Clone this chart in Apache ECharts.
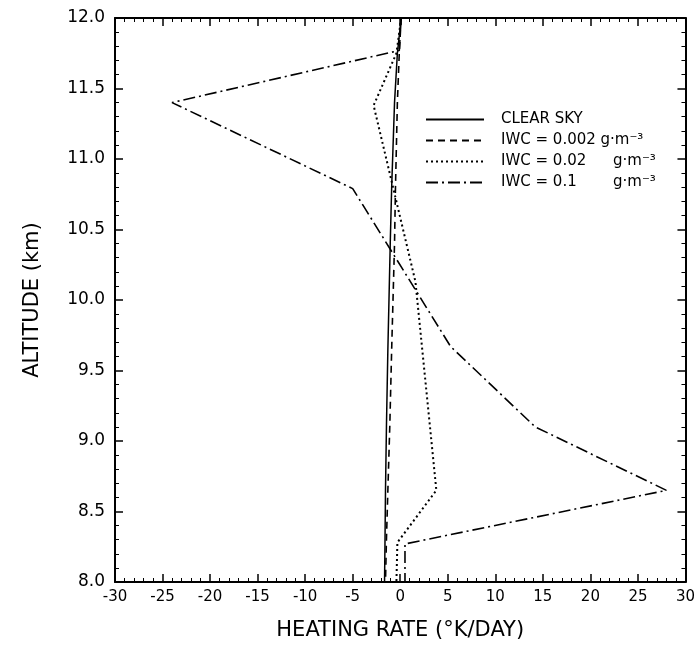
<!DOCTYPE html>
<html>
<head>
<meta charset="utf-8">
<script src="https://cdn.jsdelivr.net/npm/echarts@6/dist/echarts.min.js"></script>
<style>html,body{margin:0;padding:0;background:#fff}#c{width:698px;height:652px}</style>
</head>
<body>
<div id="c"></div>
<script>
const seriesNames = ['CLEAR SKY', 'IWC = 0.002 g·m⁻³', 'IWC = 0.02 g·m⁻³', 'IWC = 0.1 g·m⁻³'];
const clearAlt = [12.0, 11.75, 11.4, 10.8, 10.4, 9.65, 9.1, 8.65, 8.3, 8.0];
const clearVal = [0.1, -0.3, -0.6, -0.9, -1.05, -1.3, -1.45, -1.55, -1.6, -1.65];
const iwc002Alt = [12.0, 11.75, 11.4, 10.8, 10.4, 9.65, 9.1, 8.65, 8.3, 8.0];
const iwc002Val = [0.1, -0.1, -0.3, -0.5, -0.6, -0.9, -1.1, -1.3, -1.45, -1.55];
const iwc02Alt = [12.0, 11.75, 11.38, 10.13, 8.65, 8.28, 8.0];
const iwc02Val = [0.1, -0.4, -2.8, 1.6, 3.8, -0.3, -0.4];
const iwc1Alt = [12.0, 11.77, 11.4, 10.79, 9.67, 9.1, 8.65, 8.27, 8.0];
const iwc1Val = [0.1, -0.1, -24, -5, 5.3, 14.2, 28, 0.5, 0.5];
const xTicks = [-30, -25, -20, -15, -10, -5, 0, 5, 10, 15, 20, 25, 30];
const yTicks = [8.0, 8.5, 9.0, 9.5, 10.0, 10.5, 11.0, 11.5, 12.0];

const pairs = (v, a) => v.map((x, i) => [x, a[i]]);
const FONT = 'DejaVu Sans';
const chart = echarts.init(document.getElementById('c'), null, {renderer: 'canvas'});
const axisCommon = {
  type: 'value',
  axisLine: {show: true, onZero: false, lineStyle: {color: '#000', width: 2}},
  axisTick: {show: true, inside: true, length: 8, lineStyle: {color: '#000', width: 1.5}},
  minorTick: {show: true, splitNumber: 5, length: 4, lineStyle: {color: '#000', width: 1}},
  splitLine: {show: false},
  minorSplitLine: {show: false}
};
const option = {
  backgroundColor: '#fff',
  animation: false,
  color: ['#000', '#000', '#000', '#000'],
  grid: {left: 115, right: 12, top: 18, bottom: 70, containLabel: false},
  xAxis: [
    Object.assign({}, axisCommon, {
      position: 'bottom', min: xTicks[0], max: xTicks[xTicks.length - 1], interval: 5,
      axisLabel: {show: true, color: '#000', fontFamily: FONT, fontSize: 15, margin: 8,
        formatter: v => xTicks.includes(v) ? String(v) : ''},
      name: 'HEATING RATE (°K/DAY)', nameLocation: 'middle', nameGap: 38,
      nameTextStyle: {color: '#000', fontFamily: FONT, fontSize: 21}
    }),
    Object.assign({}, axisCommon, {
      position: 'top', min: -30, max: 30, interval: 5, axisLabel: {show: false}
    })
  ],
  yAxis: [
    Object.assign({}, axisCommon, {
      position: 'left', min: 8, max: 12, interval: 0.5,
      axisLabel: {show: true, color: '#000', fontFamily: FONT, fontSize: 17, margin: 10,
        formatter: v => yTicks.includes(v) ? v.toFixed(1) : ''},
      name: 'ALTITUDE (km)', nameLocation: 'middle', nameGap: 72,
      nameTextStyle: {color: '#000', fontFamily: FONT, fontSize: 21}
    }),
    Object.assign({}, axisCommon, {
      position: 'right', min: 8, max: 12, interval: 0.5, axisLabel: {show: false}
    })
  ],
  legend: {
    orient: 'vertical', left: 420, top: 107, itemWidth: 58, itemHeight: 14, itemGap: 6,
    itemStyle: {opacity: 0},
    data: seriesNames,
    textStyle: {color: '#000', fontFamily: FONT, fontSize: 15, padding: [0, 0, 0, 12],
      rich: {a: {width: 112, fontFamily: FONT, fontSize: 15, color: '#000'},
             c: {fontFamily: FONT, fontSize: 15, color: '#000'},
             b: {fontFamily: FONT, fontSize: 15, color: '#000'}}},
    formatter: name => {
      if (name.startsWith('IWC')) {
        const k = name.lastIndexOf(' ');
        const head = name.slice(0, k), unit = name.slice(k + 1);
        if (head.length > 10) return '{c|' + head + ' }{b|' + unit + '}';
        return '{a|' + head + '}{b|' + unit + '}';
      }
      return name;
    }
  },
  series: [
    {name: seriesNames[0], type: 'line', symbol: 'none', data: pairs(clearVal, clearAlt),
      itemStyle: {color: '#000'}, lineStyle: {color: '#000', width: 1.5, type: 'solid'}},
    {name: seriesNames[1], type: 'line', symbol: 'none', data: pairs(iwc002Val, iwc002Alt),
      itemStyle: {color: '#000'}, lineStyle: {color: '#000', width: 1.6, type: [7, 5]}},
    {name: seriesNames[2], type: 'line', symbol: 'none', data: pairs(iwc02Val, iwc02Alt),
      itemStyle: {color: '#000'}, lineStyle: {color: '#000', width: 2, type: [2, 3]}},
    {name: seriesNames[3], type: 'line', symbol: 'none', data: pairs(iwc1Val, iwc1Alt),
      itemStyle: {color: '#000'}, lineStyle: {color: '#000', width: 1.6, type: [12, 4, 2, 4]}}
  ]
};
chart.setOption(option);
</script>
</body>
</html>
